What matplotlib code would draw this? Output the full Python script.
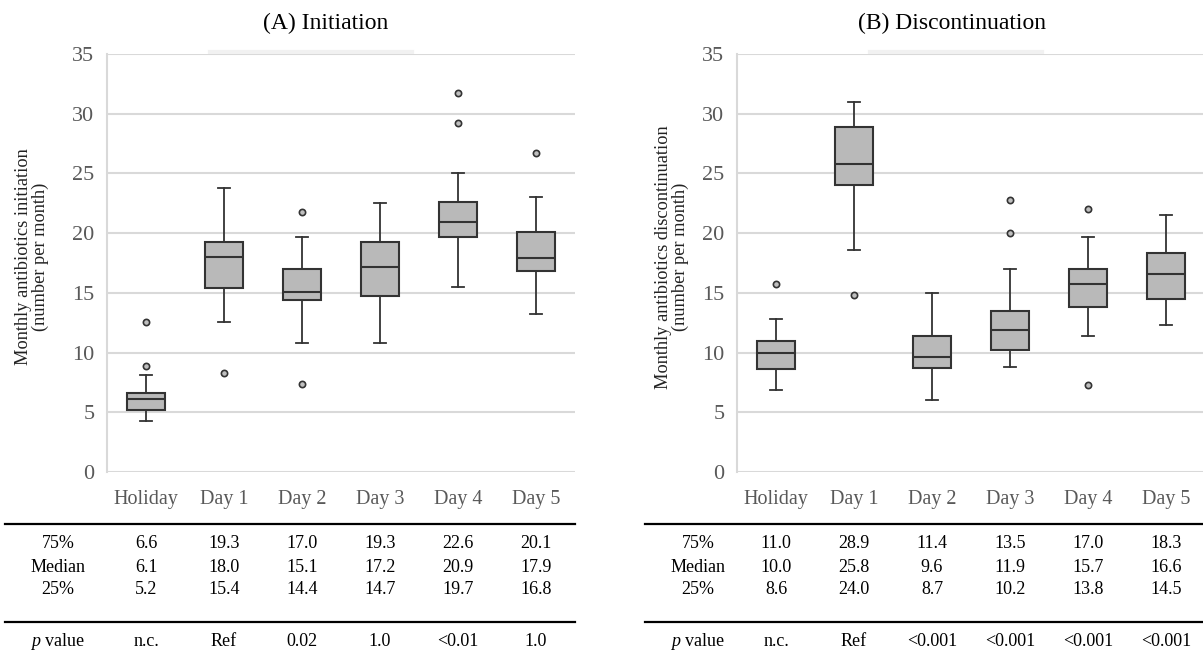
import matplotlib
matplotlib.use("Agg")
import matplotlib.pyplot as plt
from matplotlib.transforms import blended_transform_factory
from matplotlib.lines import Line2D

plt.rcParams['font.family'] = ['Liberation Serif', 'DejaVu Serif']
plt.rcParams['mathtext.fontset'] = 'custom'
plt.rcParams['mathtext.rm'] = 'Liberation Serif'
plt.rcParams['mathtext.it'] = 'Liberation Serif:italic'

categories = ['Holiday', 'Day 1', 'Day 2', 'Day 3', 'Day 4', 'Day 5']

# (A) Initiation
init_q1 = [5.2, 15.4, 14.4, 14.7, 19.7, 16.8]
init_med = [6.1, 18.0, 15.1, 17.2, 20.9, 17.9]
init_q3 = [6.6, 19.3, 17.0, 19.3, 22.6, 20.1]
init_lo = [4.3, 12.6, 10.8, 10.8, 15.5, 13.2]
init_hi = [8.1, 23.8, 19.7, 22.5, 25.0, 23.0]
init_out = [[8.9, 12.6], [8.3], [7.4, 21.8], [], [29.2, 31.7], [26.7]]
init_p = ['n.c.', 'Ref', '0.02', '1.0', '<0.01', '1.0']

# (B) Discontinuation
disc_q1 = [8.6, 24.0, 8.7, 10.2, 13.8, 14.5]
disc_med = [10.0, 25.8, 9.6, 11.9, 15.7, 16.6]
disc_q3 = [11.0, 28.9, 11.4, 13.5, 17.0, 18.3]
disc_lo = [6.9, 18.6, 6.0, 8.8, 11.4, 12.3]
disc_hi = [12.8, 31.0, 15.0, 17.0, 19.7, 21.5]
disc_out = [[15.7], [14.8], [], [20.0, 22.8], [7.3, 22.0], []]
disc_p = ['n.c.', 'Ref', '<0.001', '<0.001', '<0.001', '<0.001']

W, H = 1203, 652
fig = plt.figure(figsize=(W / 100, H / 100), dpi=100)


def fy(px):
    return 1 - px / H


def fline(x0, x1, ypx, **kw):
    fig.add_artist(Line2D([x0 / W, x1 / W], [fy(ypx), fy(ypx)], **kw))


def panel(left_px, title, title_x, ylabel, ylabel_x, rowlab_x, line_x0, line_x1,
          q1, med, q3, lo, hi, out, pvals):
    ax = fig.add_axes([left_px / W, fy(472), 468 / W, 418 / H])
    stats = []
    for i in range(len(categories)):
        stats.append(dict(q1=q1[i], med=med[i], q3=q3[i], whislo=lo[i],
                          whishi=hi[i], fliers=out[i], label=categories[i]))
    ax.bxp(stats, positions=range(len(categories)), widths=0.49, capwidths=0.16,
           patch_artist=True,
           boxprops=dict(facecolor='#b9b9b9', edgecolor='#333333', linewidth=1.5),
           medianprops=dict(color='#333333', linewidth=1.5),
           whiskerprops=dict(color='#333333', linewidth=1.3),
           capprops=dict(color='#333333', linewidth=1.3),
           flierprops=dict(marker='o', markersize=4.5, markerfacecolor='#bfbfbf',
                           markeredgecolor='#333333', markeredgewidth=1.2))
    ax.set_xlim(-0.5, len(categories) - 0.5)
    ax.set_ylim(0, 35)
    ax.set_yticks(range(0, 36, 5))
    ax.yaxis.grid(True, color='#d9d9d9', linewidth=1.5)
    ax.set_axisbelow(True)
    for s in ['top', 'right', 'bottom']:
        ax.spines[s].set_visible(False)
    ax.spines['left'].set_color('#d9d9d9')
    ax.spines['left'].set_linewidth(1.5)
    ax.tick_params(length=0, colors='#595959')
    ax.tick_params(axis='x', pad=13, labelsize=14.5)
    ax.tick_params(axis='y', pad=9, labelsize=16)

    fig.text(title_x / W, fy(23), title, ha='center', va='center', fontsize=17)
    fig.text(ylabel_x / W, fy(257), ylabel, ha='center', va='center',
             rotation=90, fontsize=13.2, color='#222222', linespacing=0.95)

    tr = blended_transform_factory(ax.transData, fig.transFigure)
    rows = [('75%', q3, 543), ('Median', med, 567), ('25%', q1, 590)]
    for lab, vals, ypx in rows:
        fig.text(rowlab_x / W, fy(ypx), lab, ha='center', va='center', fontsize=13)
        for i, v in enumerate(vals):
            ax.text(i, fy(ypx), f'{v:.1f}', transform=tr, ha='center',
                    va='center', fontsize=13)
    fig.text(rowlab_x / W, fy(641), r'$\mathit{p}$ value', ha='center',
             va='center', fontsize=13)
    for i, v in enumerate(pvals):
        ax.text(i, fy(641), v, transform=tr, ha='center', va='center',
                fontsize=13)
    for ypx in [524, 622]:
        fline(line_x0, line_x1, ypx, color='black', linewidth=1.6)
    return ax


panel(107, '(A) Initiation', 326, 'Monthly antibiotics initiation\n(number per month)',
      32, 58, 5, 575, init_q1, init_med, init_q3, init_lo, init_hi, init_out, init_p)
panel(737, '(B) Discontinuation', 952,
      'Monthly antibiotics discontinuation\n(number per month)',
      672, 698, 645, 1203, disc_q1, disc_med, disc_q3, disc_lo, disc_hi, disc_out, disc_p)

# faint band just above the top gridline of each panel
fline(210, 412, 52, color='#f1f1f1', linewidth=3, zorder=0)
fline(870, 1042, 52, color='#f1f1f1', linewidth=3, zorder=0)

fig.savefig('out.png', dpi=100)
